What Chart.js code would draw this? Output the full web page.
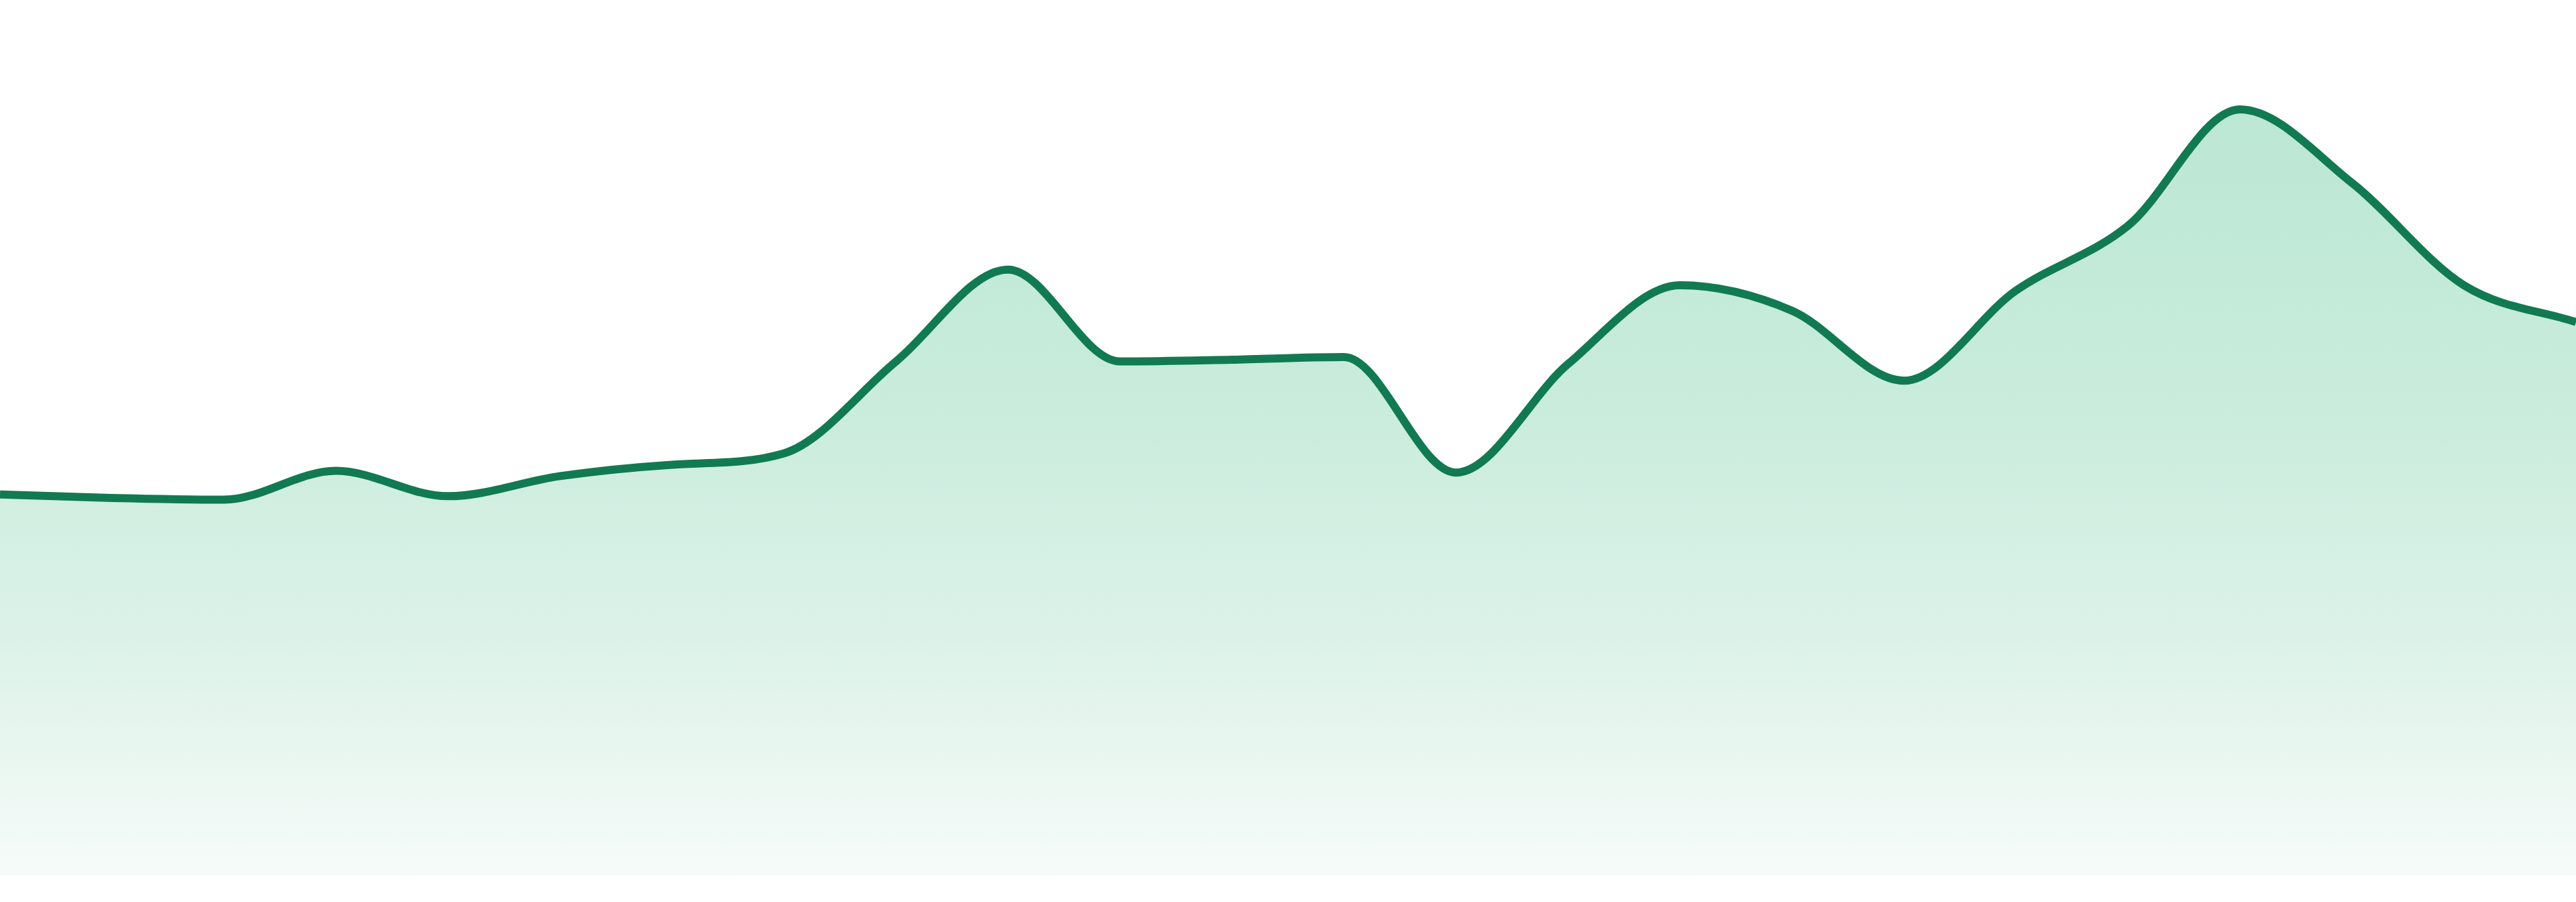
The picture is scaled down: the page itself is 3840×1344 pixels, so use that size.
<!DOCTYPE html>
<html>
<head>
<meta charset="utf-8">
<script src="https://cdn.jsdelivr.net/npm/chart.js@4"></script>
<style>
  html, body { margin: 0; padding: 0; background: #fff; }
  #wrap { width: 3840px; height: 1344px; }
</style>
</head>
<body>
<div id="wrap"><canvas id="trendChart" width="3840" height="1344"></canvas></div>
<script>
// sparkline values (scale 0..100)
const labels = ["1","2","3","4","5","6","7","8","9","10","11","12",
                "13","14","15","16","17","18","19","20","21","22","23","24"];
const values = [43.5, 43.1, 42.9, 46.2, 43.3, 45.6, 46.9, 48.2, 58.7, 69.2, 58.7, 58.9,
                59.2, 46.0, 58.4, 67.4, 64.5, 56.5, 66.8, 74.2, 87.5, 79.1, 67.4, 63.2];
const yMin = 0;
const yMax = 100;

const lineColor = "#117a52";

// vertical fade under the line
function areaFill(context) {
  const chart = context.chart;
  const area = chart.chartArea;
  if (!area) return "rgba(0,0,0,0)";
  const g = chart.ctx.createLinearGradient(0, area.top, 0, area.bottom);
  g.addColorStop(0, "#b6e5d0");
  g.addColorStop(0.46, "#c9ecdc");
  g.addColorStop(0.73, "#dcf2e8");
  g.addColorStop(1, "#f6fbf9");
  return g;
}

const ctx = document.getElementById("trendChart").getContext("2d");
new Chart(ctx, {
  type: "line",
  data: {
    labels: labels,
    datasets: [{
      data: values,
      borderColor: lineColor,
      borderWidth: 12,
      backgroundColor: areaFill,
      fill: "start",
      cubicInterpolationMode: "monotone",
      pointRadius: 0,
      pointHoverRadius: 0
    }]
  },
  options: {
    responsive: false,
    devicePixelRatio: 1,
    animation: false,
    layout: { padding: { top: 0, right: 0, bottom: 40, left: 0 } },
    plugins: { legend: { display: false }, tooltip: { enabled: false } },
    scales: {
      x: { display: false, offset: false },
      y: { display: false, min: yMin, max: yMax }
    }
  }
});
</script>
</body>
</html>
